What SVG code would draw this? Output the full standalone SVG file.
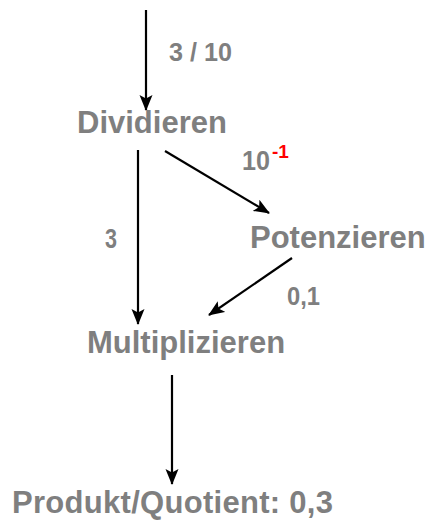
<svg xmlns="http://www.w3.org/2000/svg" width="433" height="521" viewBox="0 0 433 521">
  <style>
    .node { font-family: "Liberation Sans", Arial, sans-serif; font-weight: bold; font-size: 31px; fill: #7f7f7f; }
    .lbl { font-family: "Liberation Sans", Arial, sans-serif; font-weight: bold; font-size: 26px; fill: #7f7f7f; }
    .sup { font-family: "Liberation Sans", Arial, sans-serif; font-weight: bold; font-size: 19px; fill: #ff0000; }
    .edge { stroke: #000; stroke-width: 2.2; fill: none; marker-end: url(#arrow); }
  </style>
  <defs>
    <marker id="arrow" markerUnits="userSpaceOnUse" markerWidth="16" markerHeight="14" viewBox="0 0 16 14" refX="15" refY="7" orient="auto">
      <path d="M0,0.5 L16,7 L0,13.5 L3.5,7 Z" fill="#000"/>
    </marker>
  </defs>
  <rect width="433" height="521" fill="#fff"/>

  <g id="connectors">
    <line class="edge" x1="146" y1="10" x2="146" y2="110"/>
    <line class="edge" x1="165" y1="151" x2="269" y2="213"/>
    <line class="edge" x1="138" y1="150" x2="138" y2="324"/>
    <line class="edge" x1="292" y1="258" x2="209" y2="315"/>
    <line class="edge" x1="172" y1="375" x2="172" y2="484"/>
  </g>

  <g id="edge-labels">
    <text class="lbl" x="169" y="61" textLength="63" lengthAdjust="spacingAndGlyphs">3 / 10</text>
    <text class="lbl" x="242" y="170" style="font-size:27px" textLength="28" lengthAdjust="spacingAndGlyphs">10</text>
    <text class="sup" x="272" y="158">-1</text>
    <text class="lbl" x="105" y="248" style="font-size:27px" textLength="12" lengthAdjust="spacingAndGlyphs">3</text>
    <text class="lbl" x="287" y="305" textLength="33" lengthAdjust="spacingAndGlyphs">0,1</text>
  </g>

  <g id="dividieren">
    <text class="node" x="77" y="133">Dividieren</text>
  </g>
  <g id="potenzieren">
    <text class="node" x="250" y="248">Potenzieren</text>
  </g>
  <g id="multiplizieren">
    <text class="node" x="87" y="353">Multiplizieren</text>
  </g>
  <g id="ergebnis">
    <text class="node" x="12" y="513" textLength="321" lengthAdjust="spacing">Produkt/Quotient: 0,3</text>
  </g>
</svg>
